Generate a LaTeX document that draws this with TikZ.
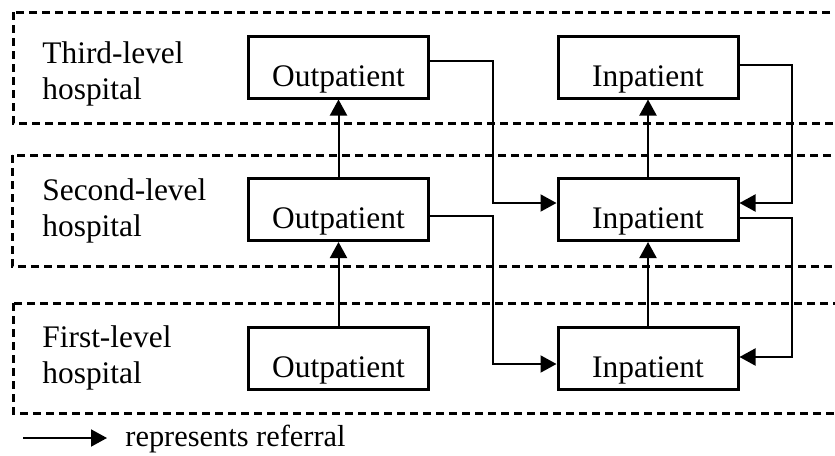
\documentclass[tikz,border=0pt]{standalone}
\usepackage{fontspec}
\setmainfont{Liberation Serif}
\usetikzlibrary{arrows.meta, positioning, calc}

\begin{document}
\begin{tikzpicture}[x=0.5pt,y=-0.5pt,
	unitbox/.style={draw,line width=1.5pt,minimum width=90pt,inner xsep=0pt,inner ysep=0pt,
		text height=25pt,text depth=6pt,font=\fontsize{15.7}{18}\selectfont},
	levelbox/.style={draw,line width=1.5pt,dash pattern=on 4pt off 2.5pt},
	leveltext/.style={align=left,anchor=west,inner sep=0pt,font=\fontsize{15.7}{18}\selectfont},
	referral/.style={line width=1pt,-{Triangle[length=8pt,width=8.5pt]}}]
	\clip (0,0) rectangle (835,455);
	% hospital levels
	\draw[levelbox] (13,12) rectangle (850,123);
	\draw[levelbox] (12,155) rectangle (850,266);
	\draw[levelbox] (13,303) rectangle (850,413);
	\node[leveltext] (third) at (42,74) {Third-level\\hospital};
	\node[leveltext] (second) at (42,211) {Second-level\\hospital};
	\node[leveltext] (first) at (42,358) {First-level\\hospital};
	% units
	\node[unitbox] (out3) at (338.5,67) {Outpatient};
	\node[unitbox] (in3) at (648,67) {Inpatient};
	\node[unitbox] (out2) at (338.5,209.5) {Outpatient};
	\node[unitbox] (in2) at (648,209.5) {Inpatient};
	\node[unitbox] (out1) at (338.5,358.5) {Outpatient};
	\node[unitbox] (in1) at (648,358.5) {Inpatient};
	% referrals
	\draw[referral] (out1) -- (out2);
	\draw[referral] (out2) -- (out3);
	\draw[referral] (in1) -- (in2);
	\draw[referral] (in2) -- (in3);
	\draw[referral] ([yshift=3pt]out3.east) -- ++(63,0) |- ([yshift=3.25pt]in2.west);
	\draw[referral] ([yshift=1pt]in3.east) -- ++(52,0) |- ([yshift=3.25pt]in2.east);
	\draw[referral] ([yshift=-3.25pt]out2.east) -- ++(63,0) |- ([yshift=-2.75pt]in1.west);
	\draw[referral] ([yshift=-4.25pt]in2.east) -- ++(52,0) |- ([yshift=0.75pt]in1.east);
	% legend
	\coordinate (leg1) at (23,438);
	\coordinate (leg2) at (107,438);
	\draw[referral] (leg1) -- (leg2);
	\node[anchor=base west,inner sep=0pt,font=\fontsize{15.2}{18}\selectfont] (legtext) at (125,446) {represents referral};
\end{tikzpicture}
\end{document}
